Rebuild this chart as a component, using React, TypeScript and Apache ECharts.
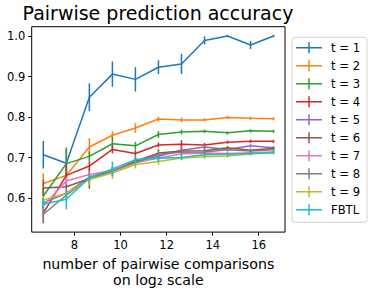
import React, { useEffect, useRef } from "react";
import * as echarts from "echarts";

const xValues = [6.644, 7.644, 8.644, 9.644, 10.644, 11.644, 12.644, 13.644, 14.644, 15.644, 16.644];
const seriesNames = ["t = 1", "t = 2", "t = 3", "t = 4", "t = 5", "t = 6", "t = 7", "t = 8", "t = 9", "FBTL"];
const colors = ["#1f77b4", "#ff7f0e", "#2ca02c", "#d62728", "#9467bd", "#8c564b", "#e377c2", "#7f7f7f", "#bcbd22", "#17becf"];

const t1 = [0.707, 0.686, 0.849, 0.906, 0.893, 0.923, 0.931, 0.989, 1.0, 0.978, 1.0];
const t2 = [0.636, 0.656, 0.726, 0.755, 0.773, 0.795, 0.793, 0.793, 0.799, 0.797, 0.796];
const t3 = [0.605, 0.685, 0.703, 0.734, 0.729, 0.757, 0.763, 0.765, 0.761, 0.766, 0.765];
const t4 = [0.563, 0.656, 0.679, 0.72, 0.71, 0.731, 0.733, 0.731, 0.738, 0.74, 0.74];
const t5 = [0.588, 0.612, 0.652, 0.668, 0.69, 0.703, 0.718, 0.726, 0.72, 0.729, 0.724];
const t6 = [0.625, 0.628, 0.648, 0.667, 0.691, 0.711, 0.716, 0.717, 0.724, 0.718, 0.723];
const t7 = [0.581, 0.642, 0.658, 0.668, 0.687, 0.699, 0.709, 0.711, 0.71, 0.712, 0.714];
const t8 = [0.56, 0.607, 0.648, 0.666, 0.688, 0.708, 0.713, 0.714, 0.719, 0.716, 0.719];
const t9 = [0.595, 0.612, 0.646, 0.662, 0.683, 0.69, 0.699, 0.702, 0.704, 0.709, 0.713];
const fbtl = [0.585, 0.597, 0.65, 0.672, 0.695, 0.698, 0.7, 0.707, 0.708, 0.71, 0.712];

const e1 = [0.034, 0.035, 0.034, 0.031, 0.03, 0.017, 0.025, 0.01, 0.003, 0.01, 0.003];
const e2 = [0.025, 0.008, 0.022, 0.01, 0.012, 0.006, 0.006, 0.004, 0.004, 0.004, 0.004];
const e3 = [0.02, 0.04, 0.012, 0.017, 0.01, 0.008, 0.006, 0.004, 0.004, 0.004, 0.004];
const e4 = [0.025, 0.028, 0.012, 0.01, 0.008, 0.006, 0.01, 0.005, 0.004, 0.004, 0.004];
const e5 = [0.012, 0.01, 0.008, 0.008, 0.008, 0.006, 0.008, 0.005, 0.004, 0.004, 0.004];
const e6 = [0.02, 0.008, 0.025, 0.01, 0.01, 0.01, 0.006, 0.005, 0.005, 0.004, 0.004];
const e7 = [0.015, 0.01, 0.008, 0.008, 0.006, 0.006, 0.005, 0.004, 0.004, 0.004, 0.004];
const e8 = [0.02, 0.01, 0.015, 0.01, 0.01, 0.008, 0.006, 0.005, 0.004, 0.004, 0.004];
const e9 = [0.01, 0.01, 0.015, 0.015, 0.01, 0.008, 0.006, 0.005, 0.004, 0.004, 0.004];
const eF = [0.015, 0.025, 0.01, 0.018, 0.01, 0.008, 0.006, 0.005, 0.004, 0.004, 0.004];

const xTicks = [8, 10, 12, 14, 16];
const yTicks = [0.6, 0.7, 0.8, 0.9, 1.0];

const allValues = [t1, t2, t3, t4, t5, t6, t7, t8, t9, fbtl];
const allErrors = [e1, e2, e3, e4, e5, e6, e7, e8, e9, eF];

const FONT = "DejaVu Sans";

export default function App() {
  const ref = useRef<HTMLDivElement>(null);
  useEffect(() => {
    if (!ref.current) return;
    const chart = echarts.init(ref.current, null, { renderer: "svg" });
    const series: any[] = [];
    seriesNames.forEach((name, i) => {
      const color = colors[i];
      series.push({
        type: "line",
        name,
        data: xValues.map((x, j) => [x, allValues[i][j]]),
        showSymbol: false,
        symbol: "none",
        lineStyle: { color, width: 1.5 },
        itemStyle: { color },
        emphasis: { disabled: true },
        z: 2 + i,
      });
      series.push({
        type: "custom",
        name: "__err" + i,
        data: xValues.map((x, j) => [x, allValues[i][j] - allErrors[i][j], allValues[i][j] + allErrors[i][j]]),
        encode: { x: 0, y: [1, 2] },
        renderItem: (params: any, api: any) => {
          const x = api.value(0);
          const p1 = api.coord([x, api.value(1)]);
          const p2 = api.coord([x, api.value(2)]);
          return {
            type: "line",
            shape: { x1: p1[0], y1: p1[1], x2: p2[0], y2: p2[1] },
            style: { stroke: color, lineWidth: 1.5 },
          };
        },
        z: 2 + i,
      });
    });
    chart.setOption({
      animation: false,
      title: {
        text: "Pairwise prediction accuracy",
        left: 158,
        textAlign: "center",
        top: 3,
        padding: 0,
        textStyle: { fontFamily: FONT, fontSize: 19, fontWeight: "normal", color: "#000" },
      },
      grid: {
        left: 31.7,
        right: 89,
        top: 26.7,
        bottom: 60,
        show: true,
        borderColor: "#000",
        borderWidth: 1,
        backgroundColor: "transparent",
      },
      legend: {
        orient: "vertical",
        left: 292,
        top: 37.3,
        data: seriesNames,
        icon: "path://M0,4.75H26V6.25H0Z M12.25,0H13.75V11H12.25Z",
        itemWidth: 26,
        itemHeight: 11,
        itemGap: 4,
        padding: [3.5, 7, 5.5, 4],
        backgroundColor: "#fff",
        borderColor: "#d0d0d0",
        borderWidth: 1,
        borderRadius: 3,
        selectedMode: false,
        itemStyle: { borderWidth: 0 },
        textStyle: {
          fontFamily: FONT,
          fontSize: 11.6,
          color: "#000",
          lineHeight: 14,
          padding: [0, 0, 0, 4],
        },
      },
      xAxis: {
        type: "value",
        min: 6.14,
        max: 17.14,
        name: "number of pairwise comparisons\non log\u2082 scale",
        nameLocation: "middle",
        nameGap: 17.5,
        nameTextStyle: { fontFamily: FONT, fontSize: 14.2, color: "#000", lineHeight: 16 },
        axisLine: { show: false },
        axisTick: { show: true, length: 3.5, lineStyle: { color: "#000" }, customValues: xTicks },
        axisLabel: { fontFamily: FONT, fontSize: 11.5, color: "#000", margin: 7, customValues: xTicks },
        splitLine: { show: false },
      },
      yAxis: {
        type: "value",
        min: 0.516,
        max: 1.023,
        axisLine: { show: false },
        axisTick: { show: true, length: 3.5, lineStyle: { color: "#000" }, customValues: yTicks },
        axisLabel: {
          fontFamily: FONT,
          fontSize: 11.5,
          color: "#000",
          margin: 6.5,
          customValues: yTicks,
          formatter: (v: number) => v.toFixed(1),
        },
        splitLine: { show: false },
      },
      series,
    });
    return () => chart.dispose();
  }, []);
  return (
    <div
      ref={ref}
      style={{ position: "fixed", left: 0, top: 0, width: 374, height: 293, background: "#fff" }}
    />
  );
}
